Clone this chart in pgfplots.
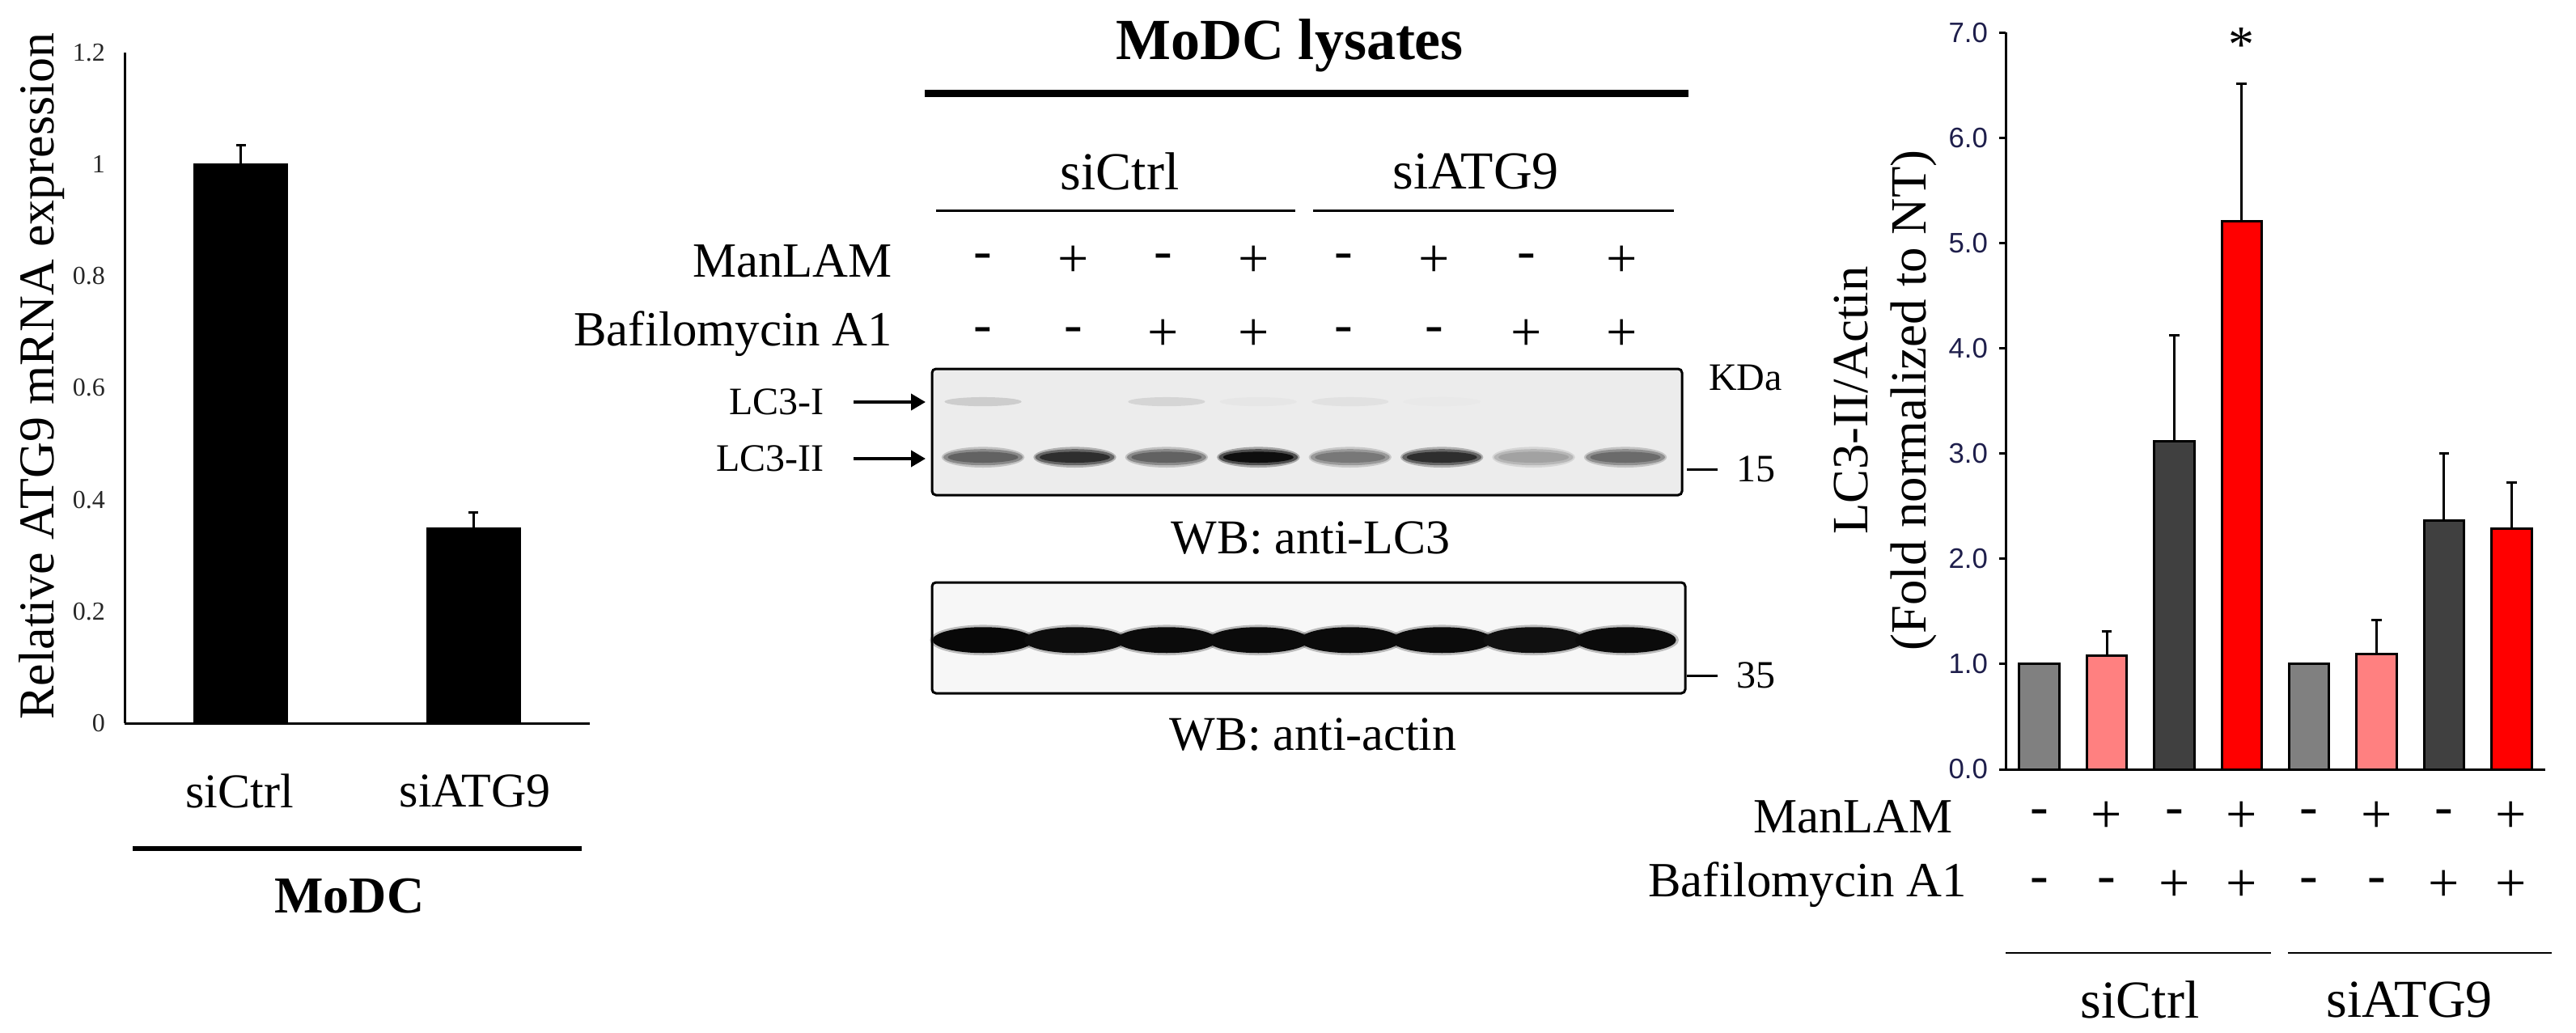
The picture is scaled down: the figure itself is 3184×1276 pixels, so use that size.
\documentclass[border=0pt]{standalone}
\usepackage{pgfplots}
\pgfplotsset{compat=1.18}
\usepackage{pgfplotstable}
\usepackage{fontspec}
\setmainfont{Liberation Serif}
\newfontfamily\arialfont{Liberation Sans}
\usetikzlibrary{arrows.meta}

\definecolor{barGray}{RGB}{128,128,128}
\definecolor{barPink}{RGB}{255,128,128}
\definecolor{barDark}{RGB}{64,64,64}
\definecolor{barRed}{RGB}{255,0,0}
\definecolor{tickNavy}{RGB}{30,30,75}

\newcommand{\fs}[1]{\fontsize{#1}{1.15\dimexpr#1\relax}\selectfont}

% fill-only round mark for blot bands
\pgfdeclareplotmark{blob}{\pgfpathcircle{\pgfpointorigin}{\pgfplotmarksize}\pgfusepathqfill}

% qPCR: relative ATG9 mRNA
\pgfplotstableread{
x y e
1 1.000 0.034
2 0.349 0.028
}\atgtable

% LC3 blot: band darkness per lane (0 = none, 1 = saturated)
\pgfplotstableread{
lane y2 lcii y1 lci
1 0.30 0.62 0.74 0.22
2 0.30 0.85 0.74 0.00
3 0.30 0.62 0.74 0.16
4 0.30 1.00 0.74 0.04
5 0.30 0.52 0.74 0.08
6 0.30 0.85 0.74 0.02
7 0.30 0.33 0.74 0.00
8 0.30 0.58 0.74 0.00
}\lcthree

% actin blot
\pgfplotstableread{
lane y act
1 0.48 1.00
2 0.48 0.97
3 0.48 0.98
4 0.48 0.98
5 0.48 0.98
6 0.48 0.98
7 0.48 0.96
8 0.48 0.98
}\actin

\pgfplotsset{
  blotaxis/.style={scale only axis, hide axis, ymin=0, ymax=1,
    colormap={blotmap}{rgb255=(236,236,236) rgb255=(8,8,8)},
    point meta min=0, point meta max=1},
  band/.style n args={3}{scatter, only marks, scatter src=explicit, mark=blob,
    scatter/use mapped color={fill=mapped color},
    mark size=#1, mark options={xscale=#2, fill opacity=#3}},
  sdbar/.style={ybar, bar width=0.593, draw=black, line width=0.75pt,
    error bars/y dir=plus, error bars/y explicit,
    error bars/error bar style={line width=0.75pt},
    error bars/error mark options={rotate=90, mark size=1.6pt, line width=0.75pt}},
}

\begin{document}
\begin{tikzpicture}
% all annotation coordinates in reference pixels (y downward); 1 px = 0.25pt
\begin{scope}[x=0.25pt, y=-0.25pt]
\path[use as bounding box] (0,0) rectangle (3184,1276);

% left panel texts
\node[rotate=90, font=\fs{15.5pt}] at (52,465) {Relative ATG9 mRNA expression};
\node[font=\fs{15pt}] at (296,978) {siCtrl};
\node[font=\fs{15pt}] at (587,978) {siATG9};
\draw[line width=1.5pt] (164,1049) -- (719,1049);
\node[font=\fs{16pt}\bfseries] at (432,1108) {MoDC};

% middle panel: western blot
\node[font=\fs{18pt}\bfseries] at (1594,56) {MoDC lysates};
\draw[line width=2.25pt] (1143,115) -- (2087,115);
\node[font=\fs{16.5pt}] at (1384,212) {siCtrl};
\node[font=\fs{16.5pt}] at (1824,212) {siATG9};
\draw[line width=0.75pt] (1157,260) -- (1601,260);
\draw[line width=0.75pt] (1623,260) -- (2069,260);
\node[anchor=east, font=\fs{15.2pt}] at (1117,323) {ManLAM};
\node[anchor=east, font=\fs{15.2pt}] at (1117,413) {Bafilomycin A1};
\foreach \xx/\m/\b in {1215/-/-,1327/+/-,1438/-/+,1550/+/+,1661/-/-,1773/+/-,1887/-/+,2005/+/+}{
  \node[font=\fs{17pt}] at (\xx,323) {\m};
  \node[font=\fs{17pt}] at (\xx,414) {\b};
}
\draw[line width=0.75pt, rounded corners=1.2pt, fill={rgb,255:red,236;green,236;blue,236}]
  (1152,456) rectangle (2079,612);
\node[anchor=east, font=\fs{12pt}] at (1033,497) {LC3-I};
\node[anchor=east, font=\fs{12pt}] at (1033,567) {LC3-II};
\draw[line width=1pt, -{Triangle[length=4.5pt, width=5pt]}] (1055,497) -- (1144,497);
\draw[line width=1pt, -{Triangle[length=4.5pt, width=5pt]}] (1055,567) -- (1144,567);
\node[font=\fs{15pt}] at (1620,665) {WB: anti-LC3};
\draw[line width=0.75pt, rounded corners=1.2pt, fill={rgb,255:red,247;green,247;blue,247}]
  (1152,720) rectangle (2083,857);
\node[font=\fs{15pt}] at (1623,908) {WB: anti-actin};
\node[anchor=west, font=\fs{12pt}] at (2098,467) {KDa};
\draw[line width=0.75pt] (2085,580) -- (2123,580);
\node[anchor=west, font=\fs{12pt}] at (2132,580) {15};
\draw[line width=0.75pt] (2085,835) -- (2123,835);
\node[anchor=west, font=\fs{12pt}] at (2132,835) {35};

% right panel texts
\node[rotate=90, align=center, font=\fs{15.7pt}] at (2330,495)
  {LC3-II/Actin\\(Fold normalized to NT)};
\node[anchor=east, font=\fs{15.2pt}] at (2428,1010) {ManLAM};
\node[anchor=east, font=\fs{15.2pt}] at (2445,1094) {Bafilomycin A1};
\foreach \xx/\m/\b in {2521/-/-,2604/+/-,2688/-/+,2771/+/+,2854/-/-,2938/+/-,3021/-/+,3104/+/+}{
  \node[font=\fs{17pt}] at (\xx,1010) {\m};
  \node[font=\fs{17pt}] at (\xx,1095) {\b};
}
\draw[line width=0.6pt] (2479,1178) -- (2807,1178);
\draw[line width=0.6pt] (2828,1178) -- (3154,1178);
\node[font=\fs{16.5pt}] at (2645,1236) {siCtrl};
\node[font=\fs{16.5pt}] at (2978,1236) {siATG9};
\end{scope}

%================ left panel =================
\begin{axis}[at={(38.5pt,-223.5pt)}, anchor=south west, scale only axis,
  width=143.75pt, height=207.25pt,
  xmin=0.5, xmax=2.5, ymin=0, ymax=1.2,
  axis x line=bottom, axis y line=left,
  axis line style={-, line width=0.75pt},
  xtick=\empty, ytick={0,0.2,0.4,0.6,0.8,1,1.2},
  yticklabels={0,0.2,0.4,0.6,0.8,1,1.2},
  major tick length=0pt,
  yticklabel style={font=\fs{8pt}, text=black!85, xshift=-2.5pt},
  /pgf/number format/assume math mode=true]
\addplot[ybar, bar width=0.4, fill=black, draw=black,
  error bars/.cd, y dir=plus, y explicit,
  error bar style={line width=0.75pt},
  error mark options={rotate=90, mark size=1.5pt, line width=0.75pt}]
  table[x=x, y=y, y error=e] {\atgtable};
\end{axis}

%================ blots =================
\begin{axis}[blotaxis, at={(288pt,-153pt)}, anchor=south west,
  width=231.75pt, height=39pt, xmin=0.444, xmax=8.617]
\addplot[band={1.4pt}{8.5}{0.6}] table[x=lane, y=y1, meta=lci] {\lcthree};
\addplot[band={3.2pt}{4.0}{0.30}] table[x=lane, y=y2, meta=lcii] {\lcthree};
\addplot[band={2.5pt}{4.9}{0.55}] table[x=lane, y=y2, meta=lcii] {\lcthree};
\addplot[band={1.7pt}{6.4}{0.90}] table[x=lane, y=y2, meta=lcii] {\lcthree};
\end{axis}
\begin{axis}[blotaxis, at={(288pt,-214.25pt)}, anchor=south west,
  width=232.75pt, height=34.25pt, xmin=0.444, xmax=8.65]
\addplot[band={4.7pt}{3.5}{0.25}] table[x=lane, y=y, meta=act] {\actin};
\addplot[band={4.0pt}{3.9}{1.0}] table[x=lane, y=y, meta=act] {\actin};
\end{axis}

%================ right panel =================
\begin{axis}[at={(619.75pt,-237.75pt)}, anchor=south west, scale only axis,
  width=166.75pt, height=227.75pt,
  xmin=-0.5, xmax=7.5, ymin=0, ymax=7,
  axis x line=bottom, axis y line=left,
  axis line style={-, line width=0.75pt},
  xtick=\empty, ytick={0,1,2,3,4,5,6,7},
  tick align=outside, major tick length=2pt,
  tick style={line width=0.75pt, black},
  yticklabel={\pgfmathprintnumber[fixed, fixed zerofill, precision=1]{\tick}},
  yticklabel style={font=\arialfont\fs{8.7pt}, text=tickNavy},
  /pgf/number format/assume math mode=true,
  clip=false]
\addplot[sdbar, fill=barGray] coordinates {(0,1.00) (4,1.00)};
\addplot[sdbar, fill=barPink] coordinates {(1,1.076) +- (0,0.238) (5,1.095) +- (0,0.325)};
\addplot[sdbar, fill=barDark] coordinates {(2,3.115) +- (0,1.007) (6,2.365) +- (0,0.638)};
\addplot[sdbar, fill=barRed]  coordinates {(3,5.205) +- (0,1.307) (7,2.283) +- (0,0.444)};
\node[font=\fs{16pt}] at (axis cs:3,6.88) {*};
\end{axis}
\end{tikzpicture}
\end{document}
